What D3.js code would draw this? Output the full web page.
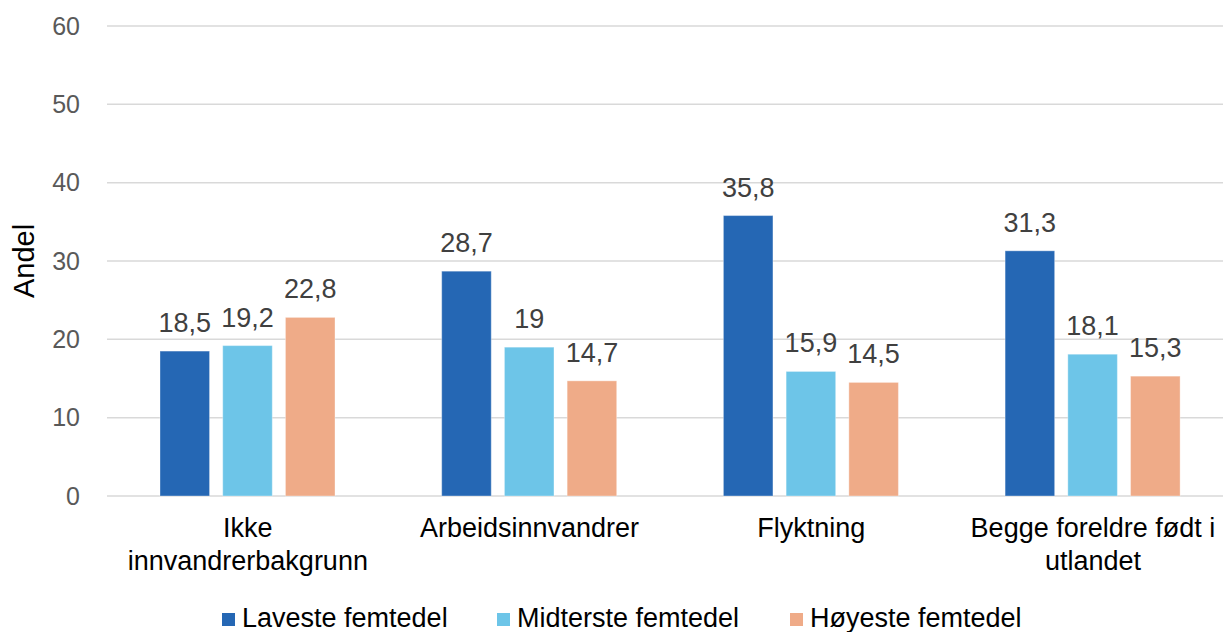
<!DOCTYPE html>
<html>
<head>
<meta charset="utf-8">
<script src="https://cdn.jsdelivr.net/npm/d3@7"></script>
<style>
  body { margin: 0; background: #fff; }
  text { font-family: "Liberation Sans", Arial, sans-serif; }
</style>
</head>
<body>
<div id="chart"></div>
<script>
// data
var categories = [["Ikke", "innvandrerbakgrunn"], ["Arbeidsinnvandrer"], ["Flyktning"], ["Begge foreldre født i", "utlandet"]];
var series = ["Laveste femtedel", "Midterste femtedel", "Høyeste femtedel"];
var colors = ["#2567b4", "#6dc5e8", "#efab88"];
var laveste = [18.5, 28.7, 35.8, 31.3];
var midterste = [19.2, 19, 15.9, 18.1];
var hoyeste = [22.8, 14.7, 14.5, 15.3];
var yTicks = [0, 10, 20, 30, 40, 50, 60];

var width = 1223, height = 632;
var margin = { top: 26, left: 107, bottom: 136 };

var svg = d3.select('#chart').append('svg')
    .attr('width', width)
    .attr('height', height);

var values = [laveste, midterste, hoyeste];
var rows = categories.map(function (c, i) {
    return { key: i, label: c, vals: series.map(function (s, j) { return { s: s, j: j, v: values[j][i] }; }) };
});

var x0 = d3.scaleBand()
    .domain(d3.range(categories.length))
    .range([margin.left, margin.left + 4 * 281.7]);

var x1 = d3.scaleBand()
    .domain(d3.range(series.length))
    .range([53, 228])
    .paddingInner(0.21);

var y = d3.scaleLinear()
    .domain([0, 60])
    .range([height - margin.bottom, margin.top]);

// gridlines
svg.append('g')
    .selectAll('line')
    .data(yTicks)
    .enter()
    .append('line')
    .attr('x1', margin.left)
    .attr('x2', width)
    .attr('y1', d => y(d))
    .attr('y2', d => y(d))
    .attr('stroke', '#d9d9d9')
    .attr('stroke-width', 1.5);

// y axis labels
svg.append('g')
    .selectAll('text')
    .data(yTicks)
    .enter()
    .append('text')
    .attr('x', 80)
    .attr('y', d => y(d))
    .attr('dy', '0.35em')
    .attr('text-anchor', 'end')
    .attr('font-size', 25)
    .attr('fill', '#595959')
    .text(d => d);

svg.append('text')
    .attr('transform', 'translate(34,261) rotate(-90)')
    .attr('text-anchor', 'middle')
    .attr('font-size', 29)
    .attr('fill', '#000')
    .text('Andel');

// bars
var groups = svg.selectAll('g.grp')
    .data(rows)
    .enter()
    .append('g')
    .attr('class', 'grp')
    .attr('transform', d => `translate(${x0(d.key)},0)`);

groups.selectAll('rect')
    .data(d => d.vals)
    .enter()
    .append('rect')
    .attr('x', d => x1(d.j))
    .attr('y', d => y(d.v))
    .attr('width', x1.bandwidth())
    .attr('height', d => y(0) - y(d.v))
    .attr('fill', d => colors[d.j])
    .attr('stroke', '#fff')
    .attr('stroke-opacity', 0.35)
    .attr('stroke-width', 1);

groups.selectAll('text.val')
    .data(d => d.vals)
    .enter()
    .append('text')
    .attr('class', 'val')
    .attr('x', d => x1(d.j) + x1.bandwidth() / 2)
    .attr('y', d => y(d.v) - 19)
    .attr('text-anchor', 'middle')
    .attr('font-size', 27)
    .attr('fill', '#404040')
    .text(d => String(d.v).replace('.', ','));

// category labels
groups.append('text')
    .attr('text-anchor', 'middle')
    .attr('font-size', 27)
    .attr('fill', '#000')
    .selectAll('tspan')
    .data(d => d.label)
    .enter()
    .append('tspan')
    .attr('x', x0.bandwidth() / 2)
    .attr('y', (d, i) => 537 + i * 33)
    .text(d => d);

// legend
var legX = [222, 497, 790];
var leg = svg.selectAll('g.leg')
    .data(series)
    .enter()
    .append('g')
    .attr('class', 'leg')
    .attr('transform', (d, i) => `translate(${legX[i]},0)`);

leg.append('rect')
    .attr('y', 613)
    .attr('width', 13)
    .attr('height', 13)
    .attr('fill', (d, i) => colors[i]);

leg.append('text')
    .attr('x', 20)
    .attr('y', 627)
    .attr('font-size', 27)
    .attr('fill', '#000')
    .text(d => d);
</script>
</body>
</html>
